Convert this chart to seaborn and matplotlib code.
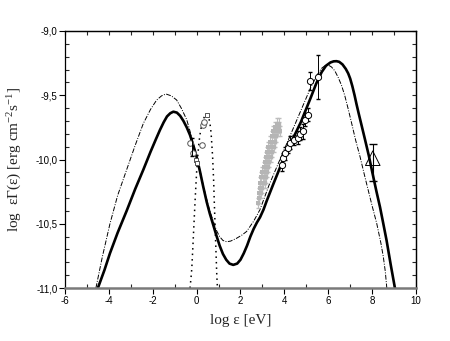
import matplotlib
matplotlib.use("Agg")
import matplotlib.pyplot as plt
import matplotlib.ticker as mticker
import seaborn as sns
import pandas as pd

# ---------------- data ----------------
solid_x = [-4.50, -4.20, -3.95, -3.60, -3.19, -2.80, -2.43, -2.10, -1.85, -1.67,
           -1.50, -1.35, -1.20, -1.06, -0.90, -0.75, -0.60, -0.45, -0.30, -0.15,
           0.00, 0.15, 0.30, 0.46, 0.60, 0.76, 0.90, 1.05, 1.20, 1.35,
           1.50, 1.67, 1.85, 2.00, 2.15, 2.30, 2.45, 2.60, 2.75, 2.89,
           3.05, 3.20, 3.50, 3.95, 4.30, 4.75, 5.20, 5.45, 5.70, 5.90,
           6.10, 6.25, 6.38, 6.50, 6.65, 6.80, 6.91, 7.00, 7.10, 7.20,
           7.29, 7.40, 7.50, 7.67, 7.85, 8.01, 8.20, 8.36, 8.50, 8.66,
           8.85, 9.04]
solid_y = [-11.00, -10.86, -10.73, -10.57, -10.40, -10.23, -10.08, -9.94, -9.84, -9.77,
           -9.71, -9.665, -9.64, -9.628, -9.635, -9.66, -9.70, -9.75, -9.81, -9.89,
           -9.98, -10.09, -10.21, -10.33, -10.42, -10.51, -10.59, -10.67, -10.735, -10.78,
           -10.81, -10.82, -10.81, -10.78, -10.73, -10.67, -10.60, -10.54, -10.49, -10.45,
           -10.39, -10.32, -10.19, -10.00, -9.87, -9.71, -9.52, -9.41, -9.32, -9.27,
           -9.245, -9.236, -9.235, -9.24, -9.26, -9.295, -9.33, -9.37, -9.43, -9.50,
           -9.57, -9.65, -9.72, -9.84, -9.97, -10.10, -10.25, -10.37, -10.49, -10.63,
           -10.82, -11.00]

dd_x = [-4.59, -4.30, -3.95, -3.60, -3.19, -2.80, -2.43, -2.10, -1.82, -1.60,
        -1.40, -1.15, -0.91, -0.70, -0.45, -0.30, -0.15, 0.00, 0.15, 0.30,
        0.46, 0.60, 0.76, 0.90, 1.05, 1.20, 1.37, 1.55, 1.80, 2.05,
        2.28, 2.60, 2.89, 3.30, 3.80, 4.30, 4.80, 5.20, 5.50, 5.70,
        5.85, 6.00, 6.15, 6.30, 6.45, 6.60, 6.75, 6.90, 7.07, 7.25,
        7.45, 7.65, 7.82, 8.00, 8.21, 8.40, 8.51, 8.60, 8.67]
dd_y = [-11.00, -10.76, -10.50, -10.28, -10.08, -9.89, -9.72, -9.61, -9.537, -9.505,
        -9.49, -9.505, -9.537, -9.60, -9.69, -9.78, -9.88, -9.97, -10.08, -10.20,
        -10.31, -10.40, -10.48, -10.55, -10.60, -10.63, -10.64, -10.635, -10.615, -10.59,
        -10.56, -10.48, -10.39, -10.20, -10.00, -9.80, -9.60, -9.44, -9.34, -9.29,
        -9.27, -9.265, -9.28, -9.31, -9.36, -9.42, -9.50, -9.60, -9.72, -9.85,
        -9.978, -10.12, -10.237, -10.36, -10.497, -10.65, -10.756, -10.87, -11.00]

dot_x = [-0.30, -0.26, -0.22, -0.17, -0.12, -0.06, 0.00, 0.05, 0.10, 0.15,
         0.20, 0.25, 0.30, 0.35, 0.40, 0.44, 0.48, 0.52, 0.56, 0.60,
         0.64, 0.67, 0.70, 0.73, 0.75, 0.78, 0.80, 0.83, 0.86, 0.89,
         0.92, 0.95]
dot_y = [-11.00, -10.93, -10.85, -10.68, -10.50, -10.29, -10.10, -9.98, -9.88, -9.81,
         -9.76, -9.72, -9.69, -9.67, -9.655, -9.65, -9.648, -9.655, -9.68, -9.71,
         -9.76, -9.82, -9.90, -9.98, -10.06, -10.18, -10.30, -10.45, -10.60, -10.75,
         -10.90, -11.00]

# optical points near log e = 0
opt_circ_x = [-0.30, -0.17, 0.23, 0.28, 0.34]
opt_circ_y = [-9.874, -9.95, -9.887, -9.73, -9.71]
opt_sq_x = [-0.05, 0.03, 0.46]
opt_sq_y = [-10.00, -10.03, -9.65]

# grey X-ray points
xr_x = [2.80, 2.84, 2.86, 2.95, 2.88, 2.98, 2.90, 3.02, 3.12, 2.95,
        3.06, 3.16, 3.00, 3.10, 3.22, 3.05, 3.15, 3.27, 3.10, 3.20,
        3.32, 3.15, 3.26, 3.38, 3.20, 3.32, 3.45, 3.26, 3.38, 3.52,
        3.33, 3.45, 3.58, 3.42, 3.52, 3.64, 3.50, 3.60, 3.70, 3.78,
        3.58, 3.68, 3.76, 3.66, 3.74]
xr_y = [-10.34, -10.30, -10.26, -10.26, -10.22, -10.22, -10.18, -10.18, -10.18, -10.14,
        -10.14, -10.14, -10.10, -10.10, -10.10, -10.06, -10.06, -10.06, -10.02, -10.02,
        -10.02, -9.98, -9.98, -9.98, -9.94, -9.94, -9.94, -9.90, -9.90, -9.90,
        -9.86, -9.86, -9.86, -9.82, -9.82, -9.82, -9.78, -9.78, -9.78, -9.78,
        -9.75, -9.75, -9.75, -9.72, -9.72]

# hard X-ray / soft gamma points
hx_x = [3.88, 3.95, 4.05, 4.15, 4.28, 4.42, 4.60, 4.72, 4.86, 4.95, 5.09, 5.17, 5.55]
hx_y = [-10.04, -9.99, -9.95, -9.91, -9.87, -9.85, -9.83, -9.80, -9.78, -9.69, -9.65, -9.387, -9.356]
hx_err = [0.05, 0.04, 0.05, 0.04, 0.05, 0.04, 0.05, 0.05, 0.06, 0.05, 0.05, 0.07, 0.17]

# gamma-ray point
tri_x = [8.03]
tri_y = [-9.99]
tri_lo = [0.18]
tri_hi = [0.11]

# ---------------- figure ----------------
sns.set_style("ticks")
plt.rcParams["font.family"] = ["Liberation Sans", "DejaVu Sans"]
plt.rcParams["axes.unicode_minus"] = False
plt.rcParams["mathtext.fontset"] = "custom"
plt.rcParams["mathtext.rm"] = "Liberation Serif"
plt.rcParams["mathtext.it"] = "Liberation Serif:italic"

fig = plt.figure(figsize=(4.5, 3.41), dpi=100)
ax = fig.add_axes([0.1444, 0.1554, 0.78, 0.7537])

df_s = pd.DataFrame({"x": solid_x, "y": solid_y})
df_d = pd.DataFrame({"x": dd_x, "y": dd_y})
df_o = pd.DataFrame({"x": dot_x, "y": dot_y})

sns.lineplot(data=df_d, x="x", y="y", sort=False, estimator=None, ax=ax,
             color="black", lw=0.7, linestyle=(0, (5, 1.5, 1, 1.5)))
sns.lineplot(data=df_o, x="x", y="y", sort=False, estimator=None, ax=ax,
             color="black", lw=1.1, linestyle=(0, (1, 2.6)))
sns.lineplot(data=df_s, x="x", y="y", sort=False, estimator=None, ax=ax,
             color="black", lw=1.9)

# grey X-ray data
ax.errorbar(xr_x, xr_y, yerr=0.04, xerr=0.04, fmt="none", ecolor="#bdbdbd",
            elinewidth=0.8, capsize=1.2, zorder=3)
sns.scatterplot(x=xr_x, y=xr_y, ax=ax, color="#b5b5b5", marker="s", s=8,
                linewidth=0, zorder=4)

# optical data
sns.scatterplot(x=opt_circ_x, y=opt_circ_y, ax=ax, color="white", edgecolor="#555555",
                marker="o", s=16, linewidth=0.7, zorder=5)
sns.scatterplot(x=opt_sq_x, y=opt_sq_y, ax=ax, color="white", edgecolor="#555555",
                marker="s", s=12, linewidth=0.7, zorder=5)
ax.errorbar([-0.22], [-9.90], yerr=0.07, fmt="none", ecolor="black",
            elinewidth=0.7, capsize=1.5, zorder=5)

# hard X-ray data
ax.errorbar(hx_x, hx_y, yerr=hx_err, xerr=0.08, fmt="none", ecolor="black",
            elinewidth=0.7, capsize=1.5, zorder=5)
sns.scatterplot(x=hx_x, y=hx_y, ax=ax, color="white", edgecolor="black",
                marker="o", s=20, linewidth=0.7, zorder=6)

# gamma-ray triangle
ax.errorbar(tri_x, tri_y, yerr=[tri_lo, tri_hi], fmt="none", ecolor="black",
            elinewidth=0.8, capsize=3, zorder=5)
sns.scatterplot(x=tri_x, y=tri_y, ax=ax, color="white", edgecolor="black",
                marker="^", s=110, linewidth=0.7, zorder=6)
ax.collections[-1].set_facecolor("none")

# ---------------- axes styling ----------------
ax.set_xlim(-6, 10)
ax.set_ylim(-11, -9)
ax.xaxis.set_major_locator(mticker.MultipleLocator(2))
ax.xaxis.set_minor_locator(mticker.MultipleLocator(1))
ax.yaxis.set_major_locator(mticker.MultipleLocator(0.5))
ax.yaxis.set_minor_locator(mticker.MultipleLocator(0.1))
ax.yaxis.set_major_formatter(mticker.FuncFormatter(lambda v, p: f"{v:.1f}".replace(".", ",")))
ax.xaxis.set_major_formatter(mticker.FuncFormatter(lambda v, p: f"{v:.0f}"))

ax.tick_params(which="major", direction="out", length=4, width=0.8, labelsize=7,
               pad=1.5, colors="black")
ax.tick_params(which="minor", direction="in", length=3, width=0.8)

for side in ["top", "right", "left"]:
    ax.spines[side].set_visible(True)
    ax.spines[side].set_linewidth(0.9)
    ax.spines[side].set_color("black")
ax.spines["bottom"].set_linewidth(1.8)
ax.spines["bottom"].set_color("#7a7a7a")

top = ax.secondary_xaxis("top")
top.xaxis.set_major_locator(mticker.MultipleLocator(1))
top.tick_params(direction="in", length=3, width=0.8, labeltop=False)
top.spines["top"].set_linewidth(0.9)
right = ax.secondary_yaxis("right")
right.yaxis.set_major_locator(mticker.MultipleLocator(0.1))
right.tick_params(direction="in", length=3, width=0.8, labelright=False)
right.spines["right"].set_linewidth(0.9)

ax.set_xlabel("log ε [eV]", fontfamily="Liberation Serif", fontsize=11, labelpad=6)
ax.set_ylabel("log  εΓ(ε) [erg cm$^{-2}$s$^{-1}$]", fontfamily="Liberation Serif",
              fontsize=11, labelpad=8)

fig.savefig("out.png", dpi=100)
